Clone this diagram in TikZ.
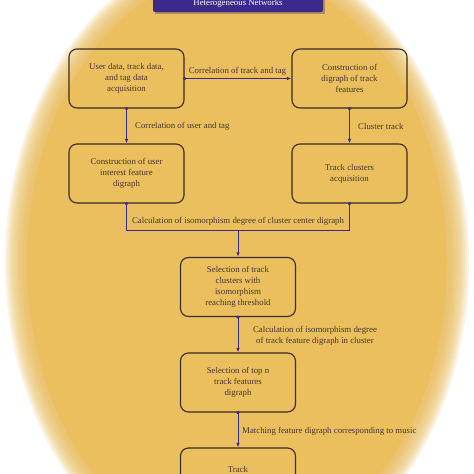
\documentclass[tikz,border=0pt]{standalone}
\usepackage{fontspec}
\setmainfont{Liberation Serif}
\usetikzlibrary{arrows.meta}
\definecolor{gold}{HTML}{EBBE5E}
\definecolor{indig}{HTML}{3B2A8C}
\definecolor{boxc}{HTML}{3A2C22}
\definecolor{txt}{HTML}{43372F}
\tikzset{
  box/.style={draw=boxc, line width=1.1pt, rounded corners=8pt, minimum width=115pt, minimum height=59pt, align=center, inner sep=2pt, font=\fontsize{8.8}{10.8}\selectfont, text=txt},
  lab/.style={font=\fontsize{8.8}{10.8}\selectfont, text=txt, inner sep=0pt},
  link/.style={draw=indig, line width=1pt},
  arr/.style={link, -{Latex[length=4.5pt,width=3.4pt]}},
  dot/.style={fill=indig},
}
\begin{document}
\begin{tikzpicture}[x=1pt,y=-1pt]
\useasboundingbox (0,0) rectangle (474,474);
\clip (0,0) rectangle (474,474);
\fill[white] (0,0) rectangle (474,474);
% blurred golden ellipse
\foreach \d in {12,10,8,6,4,2,0,-2,-4,-6,-8}{
  \fill[gold, opacity=0.17] (237,262) ellipse [x radius={220+\d}, y radius={300+\d}];
}
\fill[gold] (237,262) ellipse [x radius=210, y radius=290];
% title box
\fill[indig!70!black, opacity=0.3] (155,-10) rectangle (325,14);
\fill[indig, rounded corners=2pt] (153,-12) rectangle (323,12);
\node[lab, text=white] (title) at (238,3.5) {Heterogeneous Networks};
% boxes
\node[box] (A) at (126.5,78.5) {User data, track data,\\and tag data\\acquisition};
\node[box] (B) at (349.5,78.5) {Construction of\\digraph of track\\features};
\node[box] (C) at (126.5,173.5) {Construction of user\\interest feature\\digraph};
\node[box] (D) at (349.5,173.5) {Track clusters\\acquisition};
\node[box] (E) at (238,287) {Selection of track\\clusters with\\isomorphism\\reaching threshold};
\node[box] (F) at (238,382.5) {Selection of top n\\track features\\digraph};
\node[box] (G) at (238,477.5) {\raisebox{16pt}{Track}};
% connectors
\draw[arr] (A.east) -- (B.west);
\node[lab] (lab1) at (237.5,71) {Correlation of track and tag};
\draw[arr] (A.south) -- (C.north);
\node[lab, anchor=west] (lab2) at (135,126) {Correlation of user and tag};
\draw[arr] (B.south) -- (D.north);
\node[lab, anchor=west] (lab3) at (358,126) {Cluster track};
\coordinate (J) at (238,230);
\draw[link] (C.south) |- (J);
\draw[link] (D.south) |- (J);
\draw[arr] (J) -- (E.north);
\node[lab] (lab4) at (238,221) {Calculation of isomorphism degree of cluster center digraph};
\draw[arr] (E.south) -- (F.north);
\node[lab, align=center] (lab5) at (315,335.5) {Calculation of isomorphism degree\\of track feature digraph in cluster};
\draw[arr] (F.south) -- (G.north);
\node[lab, anchor=west] (lab6) at (242,431) {Matching feature digraph corresponding to music};
% start dots
\foreach \p in {A.east, A.south, B.south, C.south, D.south, E.south, F.south}
  \fill[dot] (\p) circle (1.8pt);
\end{tikzpicture}
\end{document}
